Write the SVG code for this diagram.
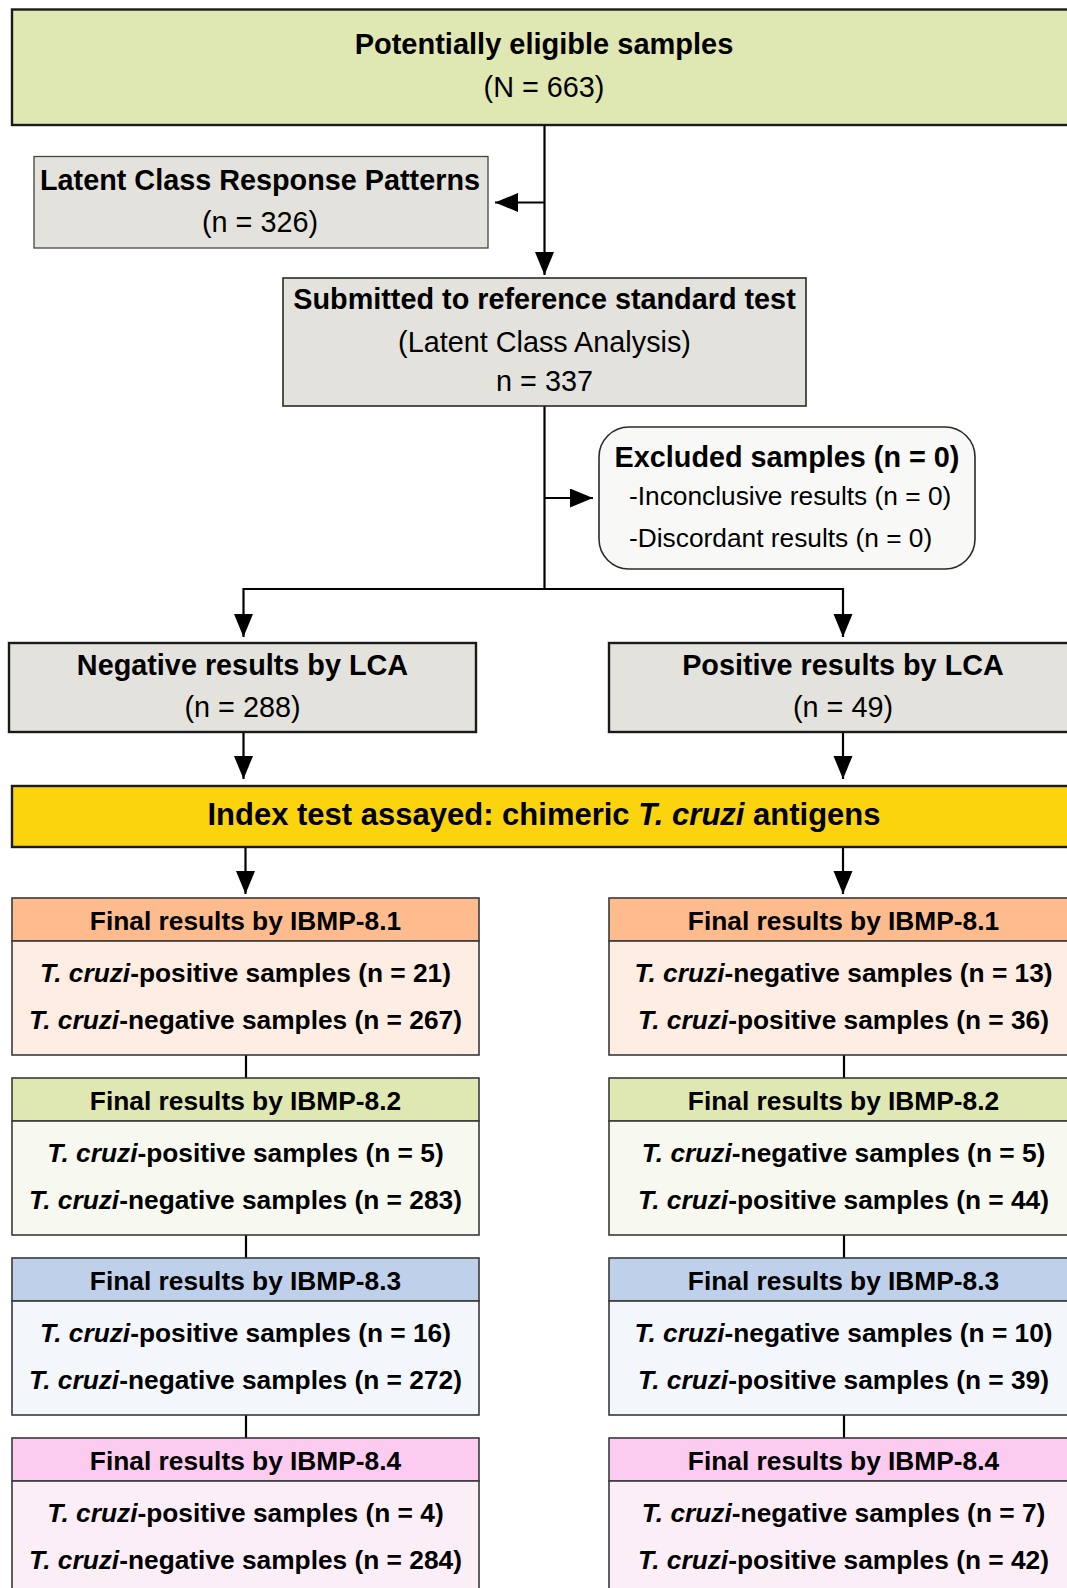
<svg xmlns="http://www.w3.org/2000/svg" width="1067" height="1588" viewBox="0 0 1067 1588">
<defs>
<style>
text{font-family:"Liberation Sans",Arial,Helvetica,sans-serif;fill:#000;text-anchor:middle}
.b{font-weight:bold}
.t1{font-size:28.8px}
.t2{font-size:26.3px}
.i{font-style:italic}
.gray{fill:#e3e2dc;stroke:#2a2a2a;stroke-width:1.6}
.thick{stroke:#1a1a1a;stroke-width:2.4}
.fb{stroke:#3a3a3a;stroke-width:1.6}
.conn{fill:none;stroke:#000;stroke-width:2.2}
</style>
<marker id="ah" markerUnits="userSpaceOnUse" markerWidth="24" markerHeight="20" refX="23" refY="9.5" orient="auto">
<path d="M0,0 L23,9.5 L0,19 Z" fill="#000"/>
</marker>
</defs>
<rect width="1067" height="1588" fill="#fff"/>

<g id="connectors">
<path class="conn" d="M544.5,125 V275" marker-end="url(#ah)"/>
<path class="conn" d="M544.5,202.5 H495" marker-end="url(#ah)"/>
<path class="conn" d="M544.5,406 V589"/>
<path class="conn" d="M544.5,498 H593" marker-end="url(#ah)"/>
<path class="conn" d="M243.5,589 H843"/>
<path class="conn" d="M243.5,588 V637" marker-end="url(#ah)"/>
<path class="conn" d="M843,588 V637" marker-end="url(#ah)"/>
<path class="conn" d="M243.5,732 V779" marker-end="url(#ah)"/>
<path class="conn" d="M843,732 V779" marker-end="url(#ah)"/>
<path class="conn" d="M245.5,847 V894" marker-end="url(#ah)"/>
<path class="conn" d="M843,847 V894" marker-end="url(#ah)"/>
<path class="conn" d="M246,1055 V1078 M246,1235 V1258 M246,1415 V1438"/>
<path class="conn" d="M844,1055 V1078 M844,1235 V1258 M844,1415 V1438"/>
</g>

<g id="node-eligible">
<rect x="12" y="9.5" width="1066" height="115.5" fill="#dfe7b3" class="thick"/>
<text class="b t1" x="544" y="54" style="font-size:29px">Potentially eligible samples</text>
<text class="t1" x="544" y="97">(N = 663)</text>
</g>

<g id="node-latent">
<rect x="34" y="156.5" width="454" height="91.5" class="gray" style="stroke:#444;stroke-width:1.3"/>
<text class="b t1" x="260" y="189.5">Latent Class Response Patterns</text>
<text class="t1" x="260" y="232">(n = 326)</text>
</g>

<g id="node-submitted">
<rect x="283" y="278" width="523" height="128" class="gray"/>
<text class="b t1" x="544.5" y="309">Submitted to reference standard test</text>
<text class="t1" x="544.5" y="351.5">(Latent Class Analysis)</text>
<text class="t1" x="544.5" y="390.5">n = 337</text>
</g>

<g id="node-excluded">
<rect x="599" y="427" width="376" height="142" rx="30" ry="30" fill="#f8f8f6" stroke="#2a2a2a" stroke-width="1.6"/>
<text class="b t1" x="787" y="466.5">Excluded samples (n = 0)</text>
<text class="t2" x="629" y="504.5" style="text-anchor:start">-Inconclusive results (n = 0)</text>
<text class="t2" x="629" y="546.5" style="text-anchor:start">-Discordant results (n = 0)</text>
</g>

<g id="node-negative">
<rect x="9" y="643" width="467" height="89" class="gray thick"/>
<text class="b t1" x="242.5" y="674.5">Negative results by LCA</text>
<text class="t1" x="242.5" y="716.5">(n = 288)</text>
</g>

<g id="node-positive">
<rect x="609" y="643" width="470" height="89" class="gray thick"/>
<text class="b t1" x="843" y="674.5">Positive results by LCA</text>
<text class="t1" x="843" y="716.5">(n = 49)</text>
</g>

<g id="node-index">
<rect x="12" y="786" width="1066" height="61" fill="#fbd40d" class="thick"/>
<text class="b" x="544" y="824.5" style="font-size:31px">Index test assayed: chimeric <tspan class="i">T. cruzi</tspan> antigens</text>
</g>

<g id="node-neg-81">
<rect x="12" y="898" width="467" height="43" fill="#fdbb8e" class="fb"/>
<rect x="12" y="941" width="467" height="114" fill="#fdede3" class="fb"/>
<text class="b t2" x="245.5" y="930">Final results by IBMP-8.1</text>
<text class="b t2" x="245.5" y="982"><tspan class="i">T. cruzi</tspan>-positive samples (n = 21)</text>
<text class="b t2" x="245.5" y="1028.5"><tspan class="i">T. cruzi</tspan>-negative samples (n = 267)</text>
</g>
<g id="node-neg-82">
<rect x="12" y="1078" width="467" height="43" fill="#dfe7b2" class="fb"/>
<rect x="12" y="1121" width="467" height="114" fill="#f7f8ef" class="fb"/>
<text class="b t2" x="245.5" y="1110">Final results by IBMP-8.2</text>
<text class="b t2" x="245.5" y="1162"><tspan class="i">T. cruzi</tspan>-positive samples (n = 5)</text>
<text class="b t2" x="245.5" y="1208.5"><tspan class="i">T. cruzi</tspan>-negative samples (n = 283)</text>
</g>
<g id="node-neg-83">
<rect x="12" y="1258" width="467" height="43" fill="#bfd0ea" class="fb"/>
<rect x="12" y="1301" width="467" height="114" fill="#f3f6fb" class="fb"/>
<text class="b t2" x="245.5" y="1290">Final results by IBMP-8.3</text>
<text class="b t2" x="245.5" y="1342"><tspan class="i">T. cruzi</tspan>-positive samples (n = 16)</text>
<text class="b t2" x="245.5" y="1388.5"><tspan class="i">T. cruzi</tspan>-negative samples (n = 272)</text>
</g>
<g id="node-neg-84">
<rect x="12" y="1438" width="467" height="43" fill="#fccbf0" class="fb"/>
<rect x="12" y="1481" width="467" height="120" fill="#fbeef7" class="fb"/>
<text class="b t2" x="245.5" y="1470">Final results by IBMP-8.4</text>
<text class="b t2" x="245.5" y="1522"><tspan class="i">T. cruzi</tspan>-positive samples (n = 4)</text>
<text class="b t2" x="245.5" y="1568.5"><tspan class="i">T. cruzi</tspan>-negative samples (n = 284)</text>
</g>

<g id="node-pos-81">
<rect x="609" y="898" width="470" height="43" fill="#fdbb8e" class="fb"/>
<rect x="609" y="941" width="470" height="114" fill="#fdede3" class="fb"/>
<text class="b t2" x="843.5" y="930">Final results by IBMP-8.1</text>
<text class="b t2" x="843.5" y="982"><tspan class="i">T. cruzi</tspan>-negative samples (n = 13)</text>
<text class="b t2" x="843.5" y="1028.5"><tspan class="i">T. cruzi</tspan>-positive samples (n = 36)</text>
</g>
<g id="node-pos-82">
<rect x="609" y="1078" width="470" height="43" fill="#dfe7b2" class="fb"/>
<rect x="609" y="1121" width="470" height="114" fill="#f7f8ef" class="fb"/>
<text class="b t2" x="843.5" y="1110">Final results by IBMP-8.2</text>
<text class="b t2" x="843.5" y="1162"><tspan class="i">T. cruzi</tspan>-negative samples (n = 5)</text>
<text class="b t2" x="843.5" y="1208.5"><tspan class="i">T. cruzi</tspan>-positive samples (n = 44)</text>
</g>
<g id="node-pos-83">
<rect x="609" y="1258" width="470" height="43" fill="#bfd0ea" class="fb"/>
<rect x="609" y="1301" width="470" height="114" fill="#f3f6fb" class="fb"/>
<text class="b t2" x="843.5" y="1290">Final results by IBMP-8.3</text>
<text class="b t2" x="843.5" y="1342"><tspan class="i">T. cruzi</tspan>-negative samples (n = 10)</text>
<text class="b t2" x="843.5" y="1388.5"><tspan class="i">T. cruzi</tspan>-positive samples (n = 39)</text>
</g>
<g id="node-pos-84">
<rect x="609" y="1438" width="470" height="43" fill="#fccbf0" class="fb"/>
<rect x="609" y="1481" width="470" height="120" fill="#fbeef7" class="fb"/>
<text class="b t2" x="843.5" y="1470">Final results by IBMP-8.4</text>
<text class="b t2" x="843.5" y="1522"><tspan class="i">T. cruzi</tspan>-negative samples (n = 7)</text>
<text class="b t2" x="843.5" y="1568.5"><tspan class="i">T. cruzi</tspan>-positive samples (n = 42)</text>
</g>
</svg>
